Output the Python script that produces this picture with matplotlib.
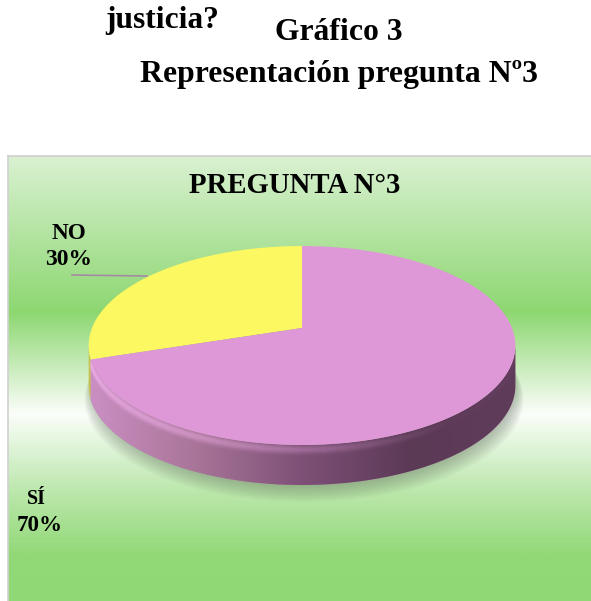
import numpy as np
import matplotlib
matplotlib.use("Agg")
import matplotlib.pyplot as plt
from matplotlib.patches import Polygon
from matplotlib.colors import LinearSegmentedColormap
from matplotlib.collections import LineCollection

# ---- data ----
categories = ["SÍ", "NO"]
values = [70, 30]
pct_labels = ["70%", "30%"]
slice_colors = ["#DF98D7", "#FCF862"]
side_colors = ["#B57FAD", "#C9C24A"]
chart_title = "PREGUNTA N°3"
header_lines = ["justicia?", "Gráfico 3", "Representación pregunta Nº3"]

W, H = 591, 601
fig = plt.figure(figsize=(W / 100, H / 100), dpi=100)
ax = fig.add_axes([0, 0, 1, 1])
ax.set_xlim(0, W)
ax.set_ylim(H, 0)
ax.axis("off")

# ---- background box with vertical gradient ----
box_l, box_t, box_r, box_b = 8, 156, 591, 601
stops = [(0.0, "#D9F1D1"), (0.35, "#8DD771"), (0.58, "#FBFEFA"), (0.75, "#BDE8AE"), (0.9, "#92D877"), (1.0, "#90D876")]
cmap_bg = LinearSegmentedColormap.from_list("bg", stops)
grad = np.linspace(0, 1, 400).reshape(-1, 1)
ax.imshow(grad, cmap=cmap_bg, aspect="auto", extent=[box_l, box_r, box_b, box_t], zorder=0, interpolation="bilinear")
ax.plot([box_l, box_r], [box_t, box_t], color="#D0D0D0", lw=1.2, zorder=1)
ax.plot([box_l, box_l], [box_t, box_b], color="#D0D0D0", lw=1.2, zorder=1)

# ---- 3D pie projection ----
cx, cy = 302, 328
A, B, k = 210, 96.4, 0.176
T = 40


def proj(theta_deg, dy=0.0, scale=1.0, dx=0.0):
    t = np.radians(theta_deg)
    u = np.cos(t) * scale
    v = -np.sin(t) * scale
    s = 1.0 / (1.0 - k * v)
    return cx + A * u * s + dx, cy + B * v * s + dy


# shadow (soft, mostly below the pie)
th_all = np.linspace(0, 360, 240)
for i in range(12):
    sc = 0.99 + i * 0.0035
    xs, ys = proj(th_all, dy=T + 3 + i * 0.9, scale=sc, dx=2)
    ax.add_patch(Polygon(np.column_stack([xs, ys]), closed=True, facecolor="#4F5E4A",
                         edgecolor="none", alpha=0.035, zorder=2))

# slices: NO goes counter-clockwise from 12 o'clock, SÍ fills the rest
total = sum(values)
start = 90.0
no_span = values[1] / total * 360
si_span = values[0] / total * 360
slices = {1: (start, start + no_span), 0: (start + no_span, start + no_span + si_span)}

# side (front visible arc)
th_l = 180 + np.degrees(np.arcsin(k))
th_r = 360 - np.degrees(np.arcsin(k))
side_cmap = LinearSegmentedColormap.from_list("side", ["#CC90C4", "#A97599", "#7E5077", "#5B3A56", "#603C5B"])
for idx, (a0, a1) in slices.items():
    lo, hi = max(a0, th_l), min(a1, th_r)
    if hi <= lo:
        continue
    th = np.linspace(lo, hi, 300)
    xt, yt = proj(th)
    xb, yb = proj(th[::-1], dy=T)
    poly = Polygon(np.column_stack([np.r_[xt, xb], np.r_[yt, yb]]), closed=True,
                   facecolor=side_colors[idx], edgecolor="none", zorder=3)
    ax.add_patch(poly)
    if idx == 0:
        g = np.linspace(0, 1, 300).reshape(1, -1)
        im = ax.imshow(g, cmap=side_cmap, aspect="auto",
                       extent=[cx - A * 1.03, cx + A * 1.03, cy + B * 1.3 + T, cy - 10],
                       zorder=3.1, interpolation="bilinear")
        im.set_clip_path(poly)
        # bevel highlight (stronger on the left, fading to the right)
        xh0, _ = proj(th)
        wgt = np.clip(1.15 - (xh0 - (cx - A)) / (2 * A) * 1.3, 0.05, 1.0)
        for off in np.arange(1, 14, 0.8):
            xh, yh = proj(th, dy=off)
            a_off = 0.28 * np.exp(-((off - 4.5) / 4.0) ** 2)
            pts = np.column_stack([xh, yh]).reshape(-1, 1, 2)
            segs = np.concatenate([pts[:-1], pts[1:]], axis=1)
            cols = np.zeros((len(segs), 4))
            cols[:, :3] = matplotlib.colors.to_rgb("#F8B6F2")
            cols[:, 3] = a_off * wgt[:-1]
            ax.add_collection(LineCollection(segs, colors=cols, linewidths=1.3, zorder=3.2))

# top face
for idx, (a0, a1) in slices.items():
    th = np.linspace(a0, a1, 200)
    xs, ys = proj(th)
    pts = np.column_stack([np.r_[cx, xs], np.r_[cy, ys]])
    ax.add_patch(Polygon(pts, closed=True, facecolor=slice_colors[idx], edgecolor="none", zorder=4))

# ---- texts (fitted to measured widths) ----
serif = "Liberation Serif"
fig.canvas.draw()
renderer = fig.canvas.get_renderer()


def fit_text(s, x0, x1, baseline, fs0=18):
    t = ax.text(x0, baseline, s, fontsize=fs0, fontweight="bold", family=serif,
                ha="left", va="baseline", zorder=6)
    w = t.get_window_extent(renderer).width
    t.set_fontsize(fs0 * (x1 - x0) / w)
    return t


fit_text(header_lines[0], 105, 218, 28)
fit_text(header_lines[1], 275, 402, 40)
fit_text(header_lines[2], 140, 538, 82)
fit_text(chart_title, 189, 401, 193)

fit_text(categories[1], 52, 87, 239)
fit_text(pct_labels[1], 45, 92, 265)
fit_text(categories[0], 27, 46, 504)
fit_text(pct_labels[0], 17, 63, 531)

# leader line for NO
ax.plot([72, 147], [275, 276], color="#A58AA5", lw=1.2, zorder=5)

fig.savefig("out.png", dpi=100)
